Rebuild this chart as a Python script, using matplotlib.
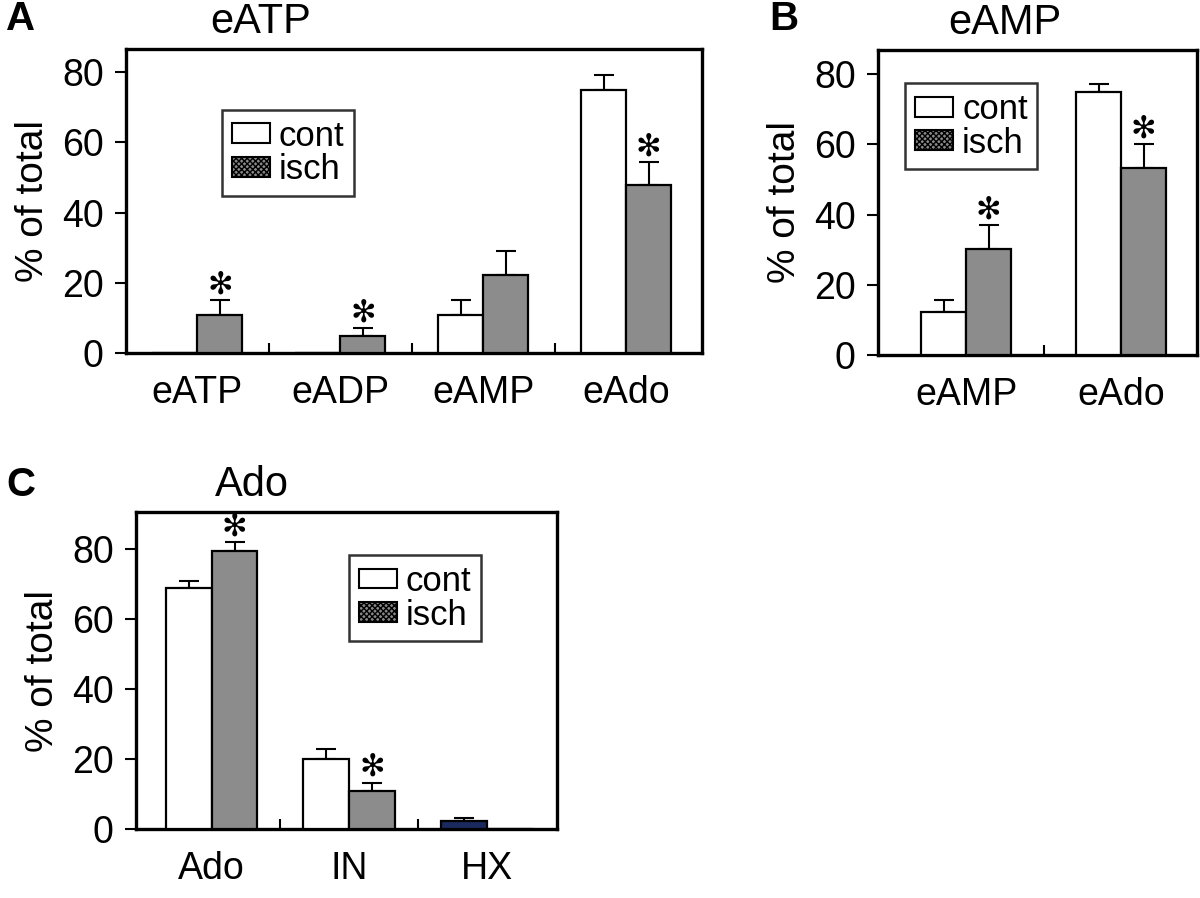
import numpy as np
import matplotlib
matplotlib.use('Agg')
import matplotlib.pyplot as plt
from matplotlib.patches import Patch

plt.rcParams['font.family'] = ['Liberation Sans', 'DejaVu Sans']

# ── data ────────────────────────────────────────────────────────────────────
a_cats      = ["eATP", "eADP", "eAMP", "eAdo"]
a_cont      = [0.0, 0.0, 10.9, 74.9]
a_cont_err  = [0.0, 0.0, 4.2, 4.4]
a_isch      = [10.9, 4.9, 22.3, 47.9]
a_isch_err  = [4.2, 2.2, 6.7, 6.4]
a_sig       = [True, True, False, True]

b_cats      = ["eAMP", "eAdo"]
b_cont      = [12.3, 74.8]
b_cont_err  = [3.3, 2.3]
b_isch      = [30.2, 53.3]
b_isch_err  = [6.8, 6.7]
b_sig       = [True, True]

c_cats      = ["Ado", "IN", "HX"]
c_cont      = [68.9, 20.0, 2.3]
c_cont_err  = [2.1, 3.0, 1.0]
c_isch      = [79.6, 10.8, 0.0]
c_isch_err  = [2.6, 2.5, 0.0]
c_sig       = [True, True, False]

GRAY = "#8c8c8c"
NAVY = "#1b2a5e"
FS = 27


def panel(ax, cats, cont, cont_err, isch, isch_err, sig, w, xlim, ylim,
          title, title_x, leg_xy, cont_colors=None):
    x = np.arange(len(cats))
    cols = cont_colors if cont_colors else ["white"] * len(cats)
    ax.bar(x - w / 2, cont, w, color=cols, edgecolor="black", lw=1.6, zorder=3)
    ax.bar(x + w / 2, isch, w, color=GRAY, edgecolor="black", lw=1.6, zorder=3)
    for xs, vals, errs in [(x - w / 2, cont, cont_err), (x + w / 2, isch, isch_err)]:
        m = np.array(errs) > 0
        ax.errorbar(np.array(xs)[m], np.array(vals)[m],
                    yerr=[np.zeros(m.sum()), np.array(errs)[m]],
                    fmt="none", ecolor="black", elinewidth=1.5, capsize=7.5,
                    capthick=1.5, zorder=2)
    for i, s in enumerate(sig):
        if s:
            ax.text(x[i] + w / 2, isch[i] + isch_err[i] + 4.3, "\u273b",
                    ha="center", va="center", fontsize=22, family="DejaVu Sans",
                    zorder=4)
    ax.set_xlim(*xlim)
    ax.set_ylim(*ylim)
    ax.set_yticks([0, 20, 40, 60, 80])
    ax.set_xticks(x)
    ax.set_xticklabels(cats, fontsize=FS)
    ax.set_xticks(x[:-1] + 0.5, minor=True)
    ax.tick_params(axis="x", which="major", length=0, pad=16)
    ax.tick_params(axis="x", which="minor", direction="in", length=7, width=1.5)
    ax.tick_params(axis="y", labelsize=FS, length=8, width=1.5, pad=8)
    for sp in ax.spines.values():
        sp.set_linewidth(2.4)
    ax.set_ylabel("% of total", fontsize=FS + 1, labelpad=8)
    h_px = ax.get_position().height * fig.get_figheight() * fig.dpi
    ax.text(title_x, 1.0 + 27 / h_px, title, transform=ax.transAxes, ha="center",
            va="center", fontsize=FS + 3)
    handles = [Patch(facecolor="white", edgecolor="black", lw=1.5, label="cont"),
               Patch(facecolor="#888888", edgecolor="black", lw=1.5,
                     hatch="xxxxxx", label="isch")]
    leg = ax.legend(handles=handles, loc="upper left", bbox_to_anchor=leg_xy,
                    borderaxespad=0, fontsize=25, frameon=True, fancybox=False,
                    edgecolor="black", handlelength=1.1, handleheight=0.5,
                    handletextpad=0.25, labelspacing=0.02, borderpad=0.28)
    leg.get_frame().set_linewidth(1.8)
    leg.set_zorder(5)


fig = plt.figure(figsize=(12, 8.98), dpi=100)

axA = fig.add_axes([0.105, 0.6069, 0.48, 0.3385])
panel(axA, a_cats, a_cont, a_cont_err, a_isch, a_isch_err, a_sig, 0.315,
      (-0.5, 3.53), (0, 86.6), "eATP", 0.233, (0.167, 0.80))

axB = fig.add_axes([0.7317, 0.6047, 0.2658, 0.3396])
panel(axB, b_cats, b_cont, b_cont_err, b_isch, b_isch_err, b_sig, 0.29,
      (-0.57, 1.49), (0, 86.9), "eAMP", 0.398, (0.086, 0.891))

axC = fig.add_axes([0.1133, 0.0768, 0.3508, 0.353])
panel(axC, c_cats, c_cont, c_cont_err, c_isch, c_isch_err, c_sig, 0.333,
      (-0.55, 2.51), (0, 90.7), "Ado", 0.276, (0.506, 0.864),
      cont_colors=["white", "white", NAVY])

for lbl, xf, yf in [("A", 0.005, 0.979), ("B", 0.641, 0.979), ("C", 0.005, 0.46)]:
    fig.text(xf, yf, lbl, fontsize=29, fontweight="bold", va="center", ha="left")

plt.savefig("out.png", dpi=100)
plt.close()
